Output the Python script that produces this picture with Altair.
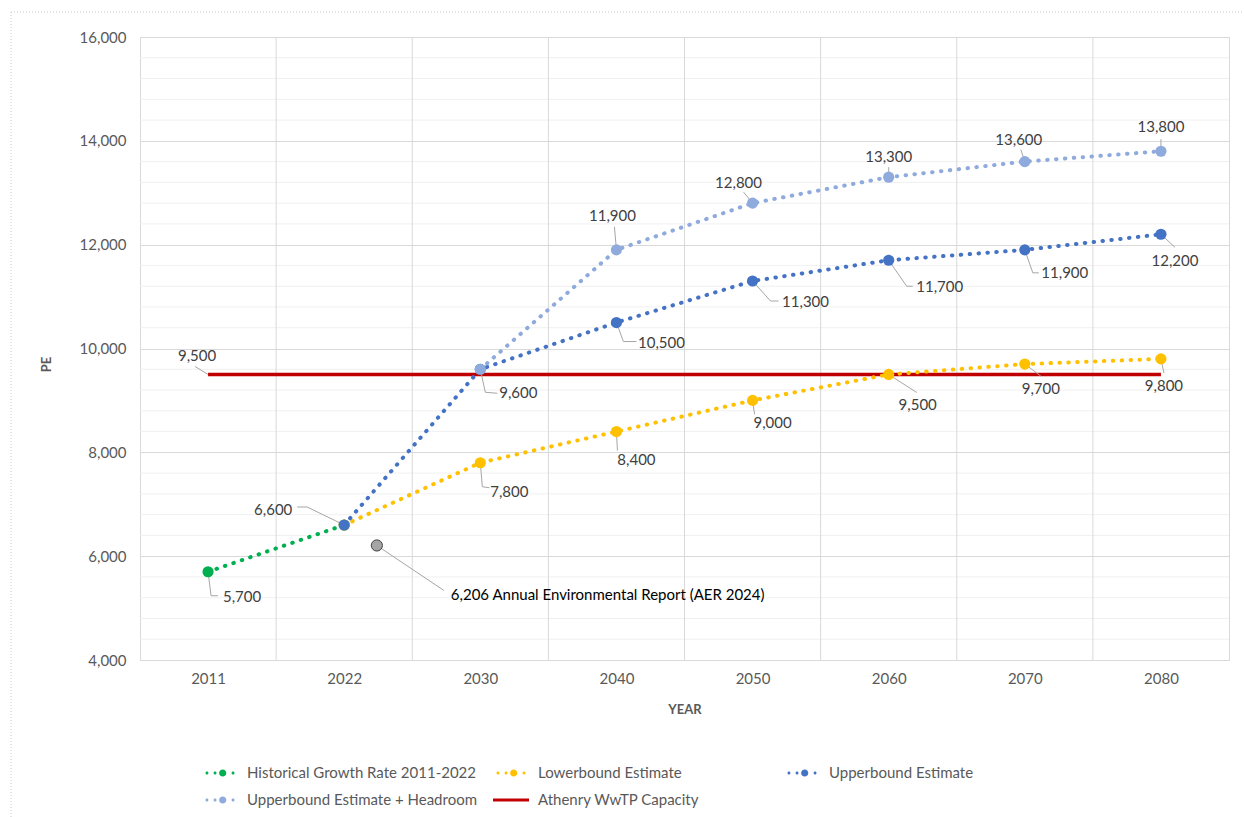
import json
import altair as alt
import pandas as pd

# ---------------- data ----------------
years = ["2011", "2022", "2030", "2040", "2050", "2060", "2070", "2080"]

historical_years = ["2011", "2022"]
historical_pe = [5700, 6600]

lower_years = ["2022", "2030", "2040", "2050", "2060", "2070", "2080"]
lower_pe = [6600, 7800, 8400, 9000, 9500, 9700, 9800]

upper_years = ["2022", "2030", "2040", "2050", "2060", "2070", "2080"]
upper_pe = [6600, 9600, 10500, 11300, 11700, 11900, 12200]

headroom_years = ["2030", "2040", "2050", "2060", "2070", "2080"]
headroom_pe = [9600, 11900, 12800, 13300, 13600, 13800]

capacity_years = ["2011", "2080"]
capacity_pe = [9500, 9500]

aer_position = 1.24  # between the 2022 and 2030 categories
aer_pe = 6206
aer_text = "6,206 Annual Environmental Report (AER 2024)"

series_names = {
    "hist": "Historical Growth Rate 2011-2022",
    "low": "Lowerbound Estimate",
    "up": "Upperbound Estimate",
    "head": "Upperbound Estimate + Headroom",
    "cap": "Athenry WwTP Capacity",
}

y_ticks = [4000, 6000, 8000, 10000, 12000, 14000, 16000]

# points that carry a data label: (series, year)
labelled = [
    ("cap", "2011"),
    ("hist", "2011"), ("hist", "2022"),
    ("low", "2030"), ("low", "2040"), ("low", "2050"), ("low", "2060"), ("low", "2070"), ("low", "2080"),
    ("up", "2030"), ("up", "2040"), ("up", "2050"), ("up", "2060"), ("up", "2070"), ("up", "2080"),
    ("head", "2040"), ("head", "2050"), ("head", "2060"), ("head", "2070"), ("head", "2080"),
]

# ---------------- style ----------------
colors = {
    "hist": "#00B050",
    "low": "#FFC000",
    "up": "#4472C4",
    "head": "#8FAADC",
    "cap": "#C00000",
}
# label offsets in pixels relative to the point: (label dx, dy, elbow dx, dy, end dx, dy)
label_style = [
    (-11, -18, -13, -8, -13, -8),
    (34, 25, 3, 24, 10, 24), (-71, -15, -37, -18, -47, -18),
    (29, 29, 2, 24, 9, 25), (20, 28, 1, 19, 1, 19), (20, 23, 2, 14, 2, 14),
    (29, 31, 28, 18, 28, 18), (16, 25, 16, 12, 16, 12), (3, 27, 3, 14, 3, 14),
    (38, 24, 5, 23, 17, 24), (45, 20, 7, 19, 20, 19), (53, 21, 18, 20, 26, 20),
    (51, 27, 18, 26, 24, 26), (40, 23, 8, 23, 14, 23), (14, 27, 14, 13, 14, 13),
    (-4, -34, -2, -23, -2, -23), (-14, -20, -9, -11, -9, -11), (0, -20, 0, -10, 0, -10),
    (-6, -22, -4, -12, -4, -12), (0, -24, 0, -12, 0, -12),
]
aer_style = (74, 50, 67, 45)

FONT = "Lato"
PLOT_W, PLOT_H = 1089, 623
X_DOMAIN = [-0.5, len(years) - 0.5]
Y_DOMAIN = [4000, 16000]
PX_X = (X_DOMAIN[1] - X_DOMAIN[0]) / PLOT_W
PX_Y = (Y_DOMAIN[1] - Y_DOMAIN[0]) / PLOT_H

# ---------------- tables ----------------
series_data = {
    "hist": (historical_years, historical_pe),
    "low": (lower_years, lower_pe),
    "up": (upper_years, upper_pe),
    "head": (headroom_years, headroom_pe),
    "cap": (capacity_years, capacity_pe),
}


def pos(year):
    return years.index(year)


frames = {
    k: pd.DataFrame({"pos": [pos(y) for y in ys], "pe": vs, "year": ys})
    for k, (ys, vs) in series_data.items()
}

label_rows, leader_rows = [], []
for i, ((key, yr), st) in enumerate(zip(labelled, label_style)):
    ys, vs = series_data[key]
    v = vs[ys.index(yr)]
    p = pos(yr)
    dx, dy, ex, ey, lx, ly = st
    label_rows.append({"pos": p + dx * PX_X, "pe": v - dy * PX_Y, "text": f"{v:,}"})
    for k, (ox, oy) in enumerate([(0, 0), (ex, ey), (lx, ly)]):
        leader_rows.append({"lid": i, "k": k, "pos": p + ox * PX_X, "pe": v - oy * PX_Y})
dx, dy, lx, ly = aer_style
for k, (ox, oy) in enumerate([(0, 0), (lx, ly)]):
    leader_rows.append({"lid": 99, "k": k, "pos": aer_position + ox * PX_X, "pe": aer_pe - oy * PX_Y})
labels_df = pd.DataFrame(label_rows)
leaders_df = pd.DataFrame(leader_rows)
aer_df = pd.DataFrame({"pos": [aer_position], "pe": [aer_pe], "text": [aer_text]})
aer_label_df = pd.DataFrame({"pos": [aer_position + dx * PX_X], "pe": [aer_pe - dy * PX_Y], "text": [aer_text]})

minor_df = pd.DataFrame({"pe": [v for v in range(Y_DOMAIN[0] + 400, Y_DOMAIN[1], 400) if v % 2000]})
vgrid_df = pd.DataFrame({"pos": [i + 0.5 for i in range(len(years) - 1)]})

# ---------------- encodings ----------------
label_expr = json.dumps(years).replace('"', "'") + "[datum.value]"
xscale = alt.Scale(domain=X_DOMAIN, nice=False, zero=False)
yscale = alt.Scale(domain=Y_DOMAIN, nice=False, zero=False)
xaxis = alt.Axis(values=list(range(len(years))), labelExpr=label_expr, grid=False, ticks=False,
                 domain=False, labelFont=FONT, labelFontSize=15, labelColor="#595959", labelPadding=11,
                 title="YEAR", titleFont=FONT, titleFontSize=13, titleFontWeight="bold",
                 titleColor="#595959", titleY=49, titleBaseline="middle")
yaxis = alt.Axis(values=y_ticks, format=",d", grid=True, gridColor="#d9d9d9", ticks=False,
                 domain=False, labelFont=FONT, labelFontSize=15, labelColor="#595959", labelPadding=14,
                 title="PE", titleFont=FONT, titleFontSize=13, titleFontWeight="bold",
                 titleColor="#595959", titleAngle=270, titleX=-94, titleY=327,
                 titleAlign="center", titleBaseline="middle")
X = alt.X("pos:Q", scale=xscale, axis=xaxis)
Y = alt.Y("pe:Q", scale=yscale, axis=yaxis)

layers = []
layers.append(alt.Chart(minor_df).mark_rule(color="#f0f0f0", strokeWidth=1).encode(y=Y))
layers.append(alt.Chart(vgrid_df).mark_rule(color="#d9d9d9", strokeWidth=1).encode(x=X))

# lines
layers.append(alt.Chart(frames["cap"]).mark_line(color=colors["cap"], strokeWidth=3.5).encode(x=X, y=Y))
for key in ["hist", "low", "up", "head"]:
    layers.append(
        alt.Chart(frames[key]).mark_line(color=colors[key], strokeWidth=4, strokeDash=[0.5, 8.4],
                                         strokeCap="round").encode(x=X, y=Y)
    )

# leader lines
layers.append(
    alt.Chart(leaders_df).mark_line(color="#a6a6a6", strokeWidth=1).encode(
        x=X, y=Y, detail="lid:N", order="k:Q")
)

# markers
for key in ["hist", "low", "up", "head"]:
    layers.append(
        alt.Chart(frames[key]).mark_point(filled=True, size=125, opacity=1, color=colors[key]).encode(x=X, y=Y)
    )
layers.append(
    alt.Chart(aer_df).mark_point(filled=True, size=125, opacity=1, color="#a5a5a5",
                                 stroke="#404040", strokeWidth=1).encode(x=X, y=Y)
)

# data labels
layers.append(
    alt.Chart(labels_df).mark_text(font=FONT, fontSize=15, color="#404040", align="center",
                                   baseline="middle").encode(x=X, y=Y, text="text:N")
)
layers.append(
    alt.Chart(aer_label_df).mark_text(font=FONT, fontSize=15, color="#000000", align="left",
                                      baseline="middle").encode(x=X, y=Y, text="text:N")
)


# legend (invisible carrier marks)
def circ(cx, r):
    return f"M{cx - r},0A{r},{r} 0 1,0 {cx + r},0A{r},{r} 0 1,0 {cx - r},0Z"


dots_path = circ(-0.87, 0.1) + circ(-0.33, 0.1) + circ(0.18, 0.24) + circ(0.87, 0.1)
bar_path = "M-1.2,-0.1L1.2,-0.1L1.2,0.1L-1.2,0.1Z"
order = ["hist", "low", "up", "head", "cap"]
leg_df = pd.DataFrame({"series": [series_names[k] for k in order]})
legend = alt.Legend(orient="none", legendX=65, legendY=721, columns=3, direction="horizontal",
                    gridAlign="all", symbolSize=900, symbolStrokeWidth=0, labelFont=FONT,
                    labelFontSize=15, labelColor="#595959", labelOffset=12, columnPadding=16,
                    rowPadding=4, title=None, labelLimit=400, padding=0, symbolOpacity=1)
layers.append(
    alt.Chart(leg_df).mark_point(filled=True, clip=True, opacity=1).encode(
        x=alt.value(-500), y=alt.value(-500),
        color=alt.Color("series:N", scale=alt.Scale(domain=[series_names[k] for k in order],
                                                     range=[colors[k] for k in order]),
                        legend=legend, sort=None),
        shape=alt.Shape("series:N", scale=alt.Scale(domain=[series_names[k] for k in order],
                                                     range=[dots_path] * 4 + [bar_path]),
                        legend=legend, sort=None),
    )
)

# outer dotted frame of the chart area
frame_df = pd.DataFrame({"a": [0]})
layers.append(alt.Chart(frame_df).mark_rule(color="#c8c8c8", strokeDash=[1, 2], strokeWidth=1).encode(
    x=alt.value(-129), x2=alt.value(1104), y=alt.value(-25)))
layers.append(alt.Chart(frame_df).mark_rule(color="#c8c8c8", strokeDash=[1, 2], strokeWidth=1).encode(
    x=alt.value(-129), y=alt.value(-25), y2=alt.value(780)))

chart = alt.layer(*layers).properties(
    width=PLOT_W, height=PLOT_H,
    autosize=alt.AutoSizeParams(type="none"),
    padding={"left": 140, "top": 37, "right": 15, "bottom": 157},
    background="white",
).configure_view(stroke="#d9d9d9", strokeWidth=1)

chart.save("out.html", embed_options={"renderer": "svg", "actions": False})
